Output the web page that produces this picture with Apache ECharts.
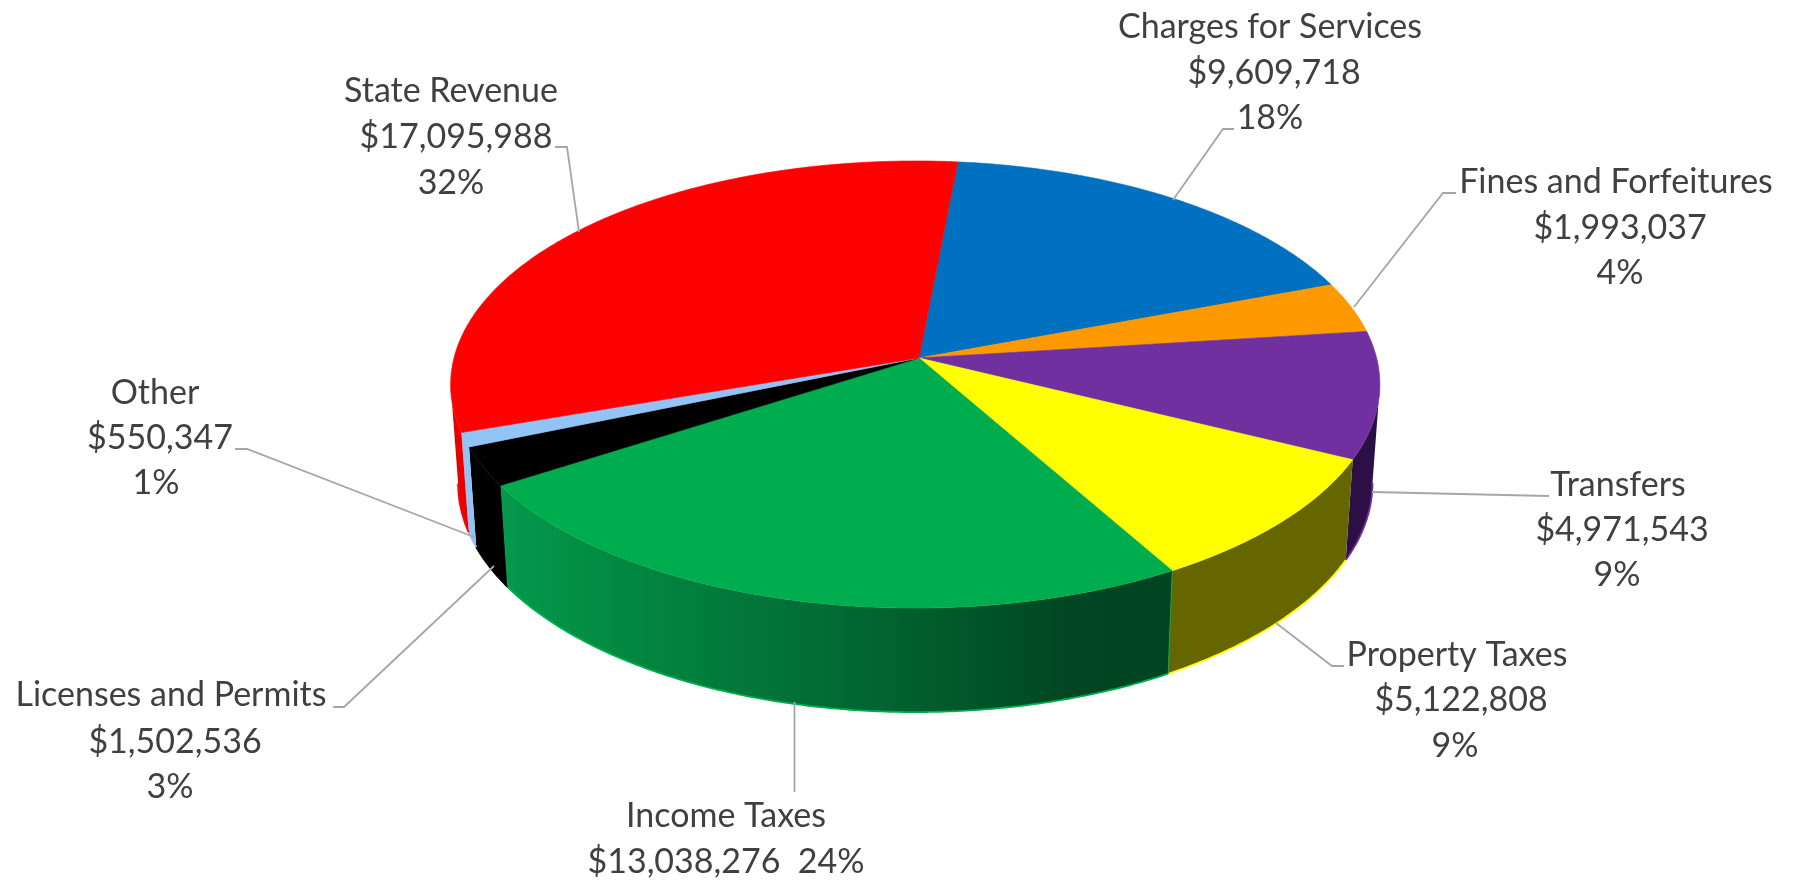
<!DOCTYPE html>
<html>
<head>
<meta charset="utf-8">
<style>html,body{margin:0;padding:0;background:#fff}#c{width:1795px;height:881px}</style>
<script src="https://cdn.jsdelivr.net/npm/echarts@6/dist/echarts.min.js"></script>
</head>
<body>
<div id="c"></div>
<script>
// ---- data, clockwise from the first slice ----
const categories = ['Charges for Services','Fines and Forfeitures','Transfers','Property Taxes','Income Taxes','Licenses and Permits','Other','State Revenue'];
const revenue = [9609718,1993037,4971543,5122808,13038276,1502536,550347,17095988];
const percents = [18,4,9,9,24,3,1,32];
const topColors = ['#0070C0','#FF9900','#7030A0','#FFFF00','#00AD4E','#000000','#92C3F5','#FF0000'];
const wallColors = ['#00385F','#804C00','#2C1045','#666600',null,'#000000','#92C3F5','#E80000'];

// ---- label placement (pixels) ----
const labelX = [[1270,1274,1270],[1616,1620,1620],[1618,1622,1617],[1457,1461,1455],[726,726],[171,175,170],[155,160,156],[451,456,451]];
const labelY = [[27,73,118],[182,228,273],[485,530,575],[655,700,746],[816,862],[695,742,787],[393,438,483],[91,137,183]];
const leaders = [
 [[1234,129],[1223,129],[1173,200]],
 [[1456,193],[1443,193],[1354,307]],
 [[1549,496],[1372,492]],
 [[1344,666],[1332,666],[1276,623]],
 [[794.5,702],[794.5,792]],
 [[333,707],[344,707],[494,566]],
 [[235,449],[247,449],[474,537]],
 [[555,147],[567,147],[579,232]]
];

// ---- pie geometry ----
const startAngle = 5.4, tiltY = -0.1186, tiltX = 0.008;
const total = revenue.reduce((a,b)=>a+b,0);
const edges = [startAngle];
revenue.forEach(v => edges.push(edges[edges.length-1] + v/total*360));

function topPoint(deg){
  const t = deg*Math.PI/180, u = Math.sin(t), v = -Math.cos(t), d = 1 + tiltY*v + tiltX*u;
  return [u/d, v/d];
}
function bottomPoint(deg){
  const p = topPoint(deg);
  return [0.984*p[0], 98/220.4 + 1.024*p[1]];
}
function arc(fn, a, b, api){
  const pts = [], n = Math.max(2, Math.ceil((b-a)/0.5));
  for(let i=0;i<=n;i++) pts.push(api.coord(fn(a+(b-a)*i/n)));
  return pts;
}
// index of the sample furthest from the pie's axis: where the side wall turns out of sight
function silhouetteIndex(pts, cx){
  let best = 0;
  pts.forEach((p,k)=>{ if(Math.abs(p[0]-cx) > Math.abs(pts[best][0]-cx)) best = k; });
  return best;
}

function renderWall(params, api){
  const i = api.value(0), a = edges[i], b = edges[i+1];
  const up = arc(topPoint,a,b,api), low = arc(bottomPoint,a,b,api);
  const cx = api.coord([0,0])[0], last = up.length-1;
  const ku = silhouetteIndex(up,cx), kl = silhouetteIndex(low,cx);
  let outline, lip;
  if(up[0][1] > up[last][1]){          // arc runs from the front towards the back
    lip = low.slice(0,kl+1);
    outline = up.slice(0,ku+1).concat(lip.slice().reverse());
  } else {                             // arc runs from the back towards the front
    lip = low.slice(kl);
    outline = up.slice(ku).concat(lip.slice().reverse());
  }
  const kids = [];
  if(wallColors[i]){
    kids.push({type:'polygon',shape:{points:outline},style:{fill:wallColors[i]}});
  } else {
    kids.push({type:'polygon',shape:{points:outline},style:{fill:{type:'linear',x:0,y:0,x2:1,y2:0,colorStops:[
      {offset:0,color:'#04994C'},{offset:0.12,color:'#028E43'},{offset:0.5,color:'#026A34'},{offset:0.85,color:'#004622'},{offset:1,color:'#004421'}]}}});
    kids.push({type:'polyline',shape:{points:[up[last],low[last]]},style:{fill:null,stroke:topColors[i],lineWidth:1}},
              {type:'polyline',shape:{points:[up[0],low[0]]},style:{fill:null,stroke:topColors[i],lineWidth:1}});
  }
  if(lip.length>1) kids.push({type:'polyline',shape:{points:lip},style:{fill:null,stroke:topColors[i],lineWidth:1.8}});
  return {type:'group',children:kids};
}
function renderTop(params, api){
  const i = api.value(0), a = edges[i], b = edges[i+1];
  const pts = [api.coord([0,0])].concat(arc(topPoint,a,b,api));
  return {type:'polygon',shape:{points:pts},style:{fill:topColors[i],stroke:topColors[i],lineWidth:0.6}};
}
function renderLabel(params, api){
  const i = api.value(0), pct = percents[i]+'%';
  const money = '$'+revenue[i].toLocaleString('en-US');
  const lines = labelY[i].length===2 ? [categories[i], money+'  '+pct] : [categories[i], money, pct];
  const kids = [{type:'polyline',shape:{points:leaders[i]},style:{fill:null,stroke:'#A6A6A6',lineWidth:1.8}}];
  lines.forEach((t,k)=>kids.push({type:'text',style:{x:labelX[i][k],y:labelY[i][k],text:t,fill:'#404040',
    font:'34px Lato',align:'center',verticalAlign:'middle'}}));
  return {type:'group',children:kids};
}

const seriesData = categories.map((_,i)=>[i]);
const base = {type:'custom',coordinateSystem:'cartesian2d',data:seriesData,encode:{x:0,y:0},clip:false,silent:true,animation:false};
const chart = echarts.init(document.getElementById('c'),null,{renderer:'canvas'});
chart.setOption({
  backgroundColor:'#fff',
  animation:false,
  grid:{left:365.44,top:93.52,width:1107.12,height:617.12},
  xAxis:{type:'value',min:-1.2,max:1.2,show:false},
  yAxis:{type:'value',min:-1.2,max:1.6,inverse:true,show:false},
  series:[
    Object.assign({},base,{name:'walls',z:1,renderItem:renderWall}),
    Object.assign({},base,{name:'tops',z:2,renderItem:renderTop}),
    Object.assign({},base,{name:'labels',z:3,renderItem:renderLabel})
  ]
});
</script>
</body>
</html>
